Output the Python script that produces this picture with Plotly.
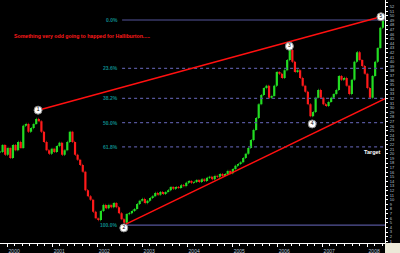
import plotly.graph_objects as go
import pandas as pd

# ---- data ----
start_date = "1999-11-04"
step = "21D"
close = [20.4, 21.9, 19.8, 21.3, 19.1, 21.9, 20.8, 22.6, 21.3, 26.1,
         26.5, 24.8, 25.6, 26.5, 27.6, 27.1, 24.8, 22.6, 20.8, 20.0,
         21.1, 20.4, 21.7, 22.4, 19.8, 20.8, 22.6, 24.8, 22.6, 19.8,
         18.7, 17.6, 16.1, 12.1, 10.8, 10.0, 7.4, 6.0, 5.6, 7.6,
         8.9, 8.2, 8.9, 8.4, 9.3, 8.4, 7.1, 5.8, 5.0, 6.9,
         7.1, 7.6, 8.0, 9.1, 9.8, 10.2, 9.3, 9.8, 10.4, 10.8,
         11.5, 11.1, 11.7, 11.3, 11.7, 12.1, 12.8, 12.4, 12.8, 12.6,
         13.2, 13.0, 13.7, 14.1, 13.7, 13.9, 14.3, 13.9, 14.5, 14.1,
         14.8, 15.0, 14.5, 15.2, 15.0, 15.6, 15.2, 15.6, 16.3, 15.8,
         16.7, 17.4, 17.8, 18.2, 19.1, 20.0, 21.3, 23.0, 25.2, 27.8,
         30.8, 32.8, 34.3, 34.8, 32.2, 32.6, 34.8, 37.8, 37.4, 36.5,
         38.2, 40.4, 42.6, 40.0, 37.8, 38.2, 36.5, 34.8, 33.5, 30.8,
         28.2, 29.1, 32.2, 33.9, 32.2, 30.8, 30.4, 31.3, 32.2, 33.0,
         33.9, 36.9, 36.1, 36.5, 34.8, 33.0, 36.1, 40.0, 42.1, 40.4,
         39.1, 37.4, 34.3, 32.2, 36.9, 40.0, 43.0, 47.4, 49.5]

pivot_labels = ["1", "2", "3", "4", "5"]
pivot_dates = ["2000-09-08", "2002-08-05", "2006-04-10", "2006-10-12", "2008-04-22"]
pivot_prices = [29.5, 3.9, 43.4, 26.5, 49.8]

upper_line_dates = ["2000-09-08", "2008-04-22"]
upper_line_prices = [29.5, 49.8]
lower_line_dates = ["2002-08-05", "2008-05-25"]
lower_line_prices = [4.5, 32.0]

fib_high = 49.1
fib_low = 4.5
fib_ratios = [0.0, 23.6, 38.2, 50.0, 61.8, 100.0]
fib_labels = ["0.0%", "23.6%", "38.2%", "50.0%", "61.8%", "100.0%"]
fib_start = "2002-07-22"
fib_end = "2008-05-25"

year_ticks = ["2000-01-01", "2001-01-01", "2002-01-01", "2003-01-01", "2004-01-01",
              "2005-01-01", "2006-01-01", "2007-01-01", "2008-01-01"]
year_labels = ["2000", "2001", "2002", "2003", "2004", "2005", "2006", "2007", "2008"]

title_text = "Something very odd going to happed for Halliburton....."
target_text = "Target"
target_date = "2007-11-22"
target_price = 20.4

x_range = ["1999-11-04", "2008-05-25"]
y_range = [0.62, 53.45]
y_ticks = list(range(1, 54))

# ---- build ----
dates = pd.date_range(start_date, periods=len(close), freq=step)
opens = [close[0]] + close[:-1]
highs = [max(o, c) for o, c in zip(opens, close)]
lows = [min(o, c) for o, c in zip(opens, close)]

fig = go.Figure()

fig.add_trace(go.Ohlc(
    x=dates, open=opens, high=highs, low=lows, close=close,
    increasing=dict(line=dict(color="#22dd22", width=2.2)),
    decreasing=dict(line=dict(color="#ff1a1a", width=2.2)),
    tickwidth=0.2, hoverinfo="skip", showlegend=False))

# fib levels
for r, lab in zip(fib_ratios, fib_labels):
    lvl = fib_high - r / 100.0 * (fib_high - fib_low)
    solid = r in (0.0, 100.0)
    fig.add_trace(go.Scatter(
        x=[fib_start, fib_end], y=[lvl, lvl], mode="lines",
        line=dict(color="#55559a", width=1.2, dash="solid" if solid else "dot"),
        hoverinfo="skip", showlegend=False))
    fig.add_annotation(x=fib_start, y=lvl, xref="x", yref="y", text="<b>" + lab + "</b>",
                       showarrow=False, xanchor="right", yanchor="middle", xshift=-2,
                       font=dict(family="Liberation Sans", size=5, color="#0d8a8a"))

# trend lines
fig.add_trace(go.Scatter(x=upper_line_dates, y=upper_line_prices, mode="lines",
                         line=dict(color="#ff1010", width=1.5), hoverinfo="skip", showlegend=False))
fig.add_trace(go.Scatter(x=lower_line_dates, y=lower_line_prices, mode="lines",
                         line=dict(color="#ff1010", width=1.5), hoverinfo="skip", showlegend=False))

# pivot markers
fig.add_trace(go.Scatter(
    x=pivot_dates, y=pivot_prices, mode="markers+text", text=pivot_labels,
    textposition="middle center",
    textfont=dict(family="Liberation Sans", size=5, color="#000000"),
    marker=dict(size=8, color="#ffffff", line=dict(color="#888888", width=1)),
    hoverinfo="skip", showlegend=False))

fig.add_annotation(x=0.03, y=0.852, xref="paper", yref="paper", text="<b>" + title_text + "</b>",
                   showarrow=False, xanchor="left", yanchor="middle",
                   font=dict(family="Liberation Sans", size=5.2, color="#ff1a1a"))
fig.add_annotation(x=target_date, y=target_price, xref="x", yref="y", text="<b>" + target_text + "</b>",
                   showarrow=False, xanchor="left", yanchor="middle",
                   font=dict(family="Liberation Sans", size=5.5, color="#ffffff"))

# beige corner
fig.add_shape(type="rect", xref="paper", yref="paper", x0=1.0, x1=1.04, y0=-0.045, y1=0.0,
              fillcolor="#ece9d8", line=dict(width=0), layer="above")

fig.update_layout(
    width=400, height=253,
    margin=dict(l=0, r=15, t=0, b=10),
    paper_bgcolor="#000000", plot_bgcolor="#000000",
    xaxis=dict(range=x_range, rangeslider=dict(visible=False), showgrid=False, zeroline=False,
               tickvals=year_ticks, ticktext=year_labels, ticks="outside", ticklen=3,
               tickcolor="#ffffff", showline=True, linecolor="#ffffff", linewidth=1,
               ticklabelshift=7, ticklabelstandoff=0,
               tickfont=dict(family="Liberation Sans", size=5, color="#b8c4d8"),
               minor=dict(dtick="M2", ticks="outside", ticklen=2, tickcolor="#ffffff")),
    yaxis=dict(range=y_range, side="right", showgrid=False, zeroline=False,
               tickvals=y_ticks, ticks="outside", ticklen=2, tickcolor="#ffffff",
               showline=True, linecolor="#ffffff", linewidth=1, ticklabelstandoff=1,
               tickfont=dict(family="Liberation Sans", size=4, color="#b8c4d8")),
)

fig.write_html("out.html")
